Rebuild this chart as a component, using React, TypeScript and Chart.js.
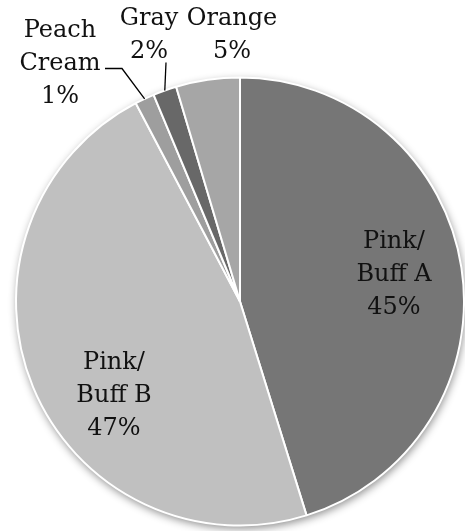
import React, { useEffect, useRef } from "react";
import { Chart, registerables } from "chart.js";

Chart.register(...registerables);

// ---- data ----
const categories = ["Pink/Buff A", "Pink/Buff B", "Peach Cream", "Gray", "Orange"];
const labelLines = [["Pink/", "Buff A"], ["Pink/", "Buff B"], ["Peach", "Cream"], ["Gray"], ["Orange"]];
const values = [45.2, 47.1, 1.4, 1.7, 4.6];
const percentLabels = ["45%", "47%", "1%", "2%", "5%"];

// ---- styles / layout ----
const sliceColors = ["#767676", "#c0c0c0", "#9e9e9e", "#686868", "#a6a6a6"];
const FONT = "24px 'DejaVu Serif', Georgia, serif";
const LINE_H = 33;
// label anchor: center x offset and first baseline offset from pie center (px)
const labelPlacement = [
  { dx: 154, dy: -54 },
  { dx: -126, dy: 67 },
  { dx: -180, dy: -265 },
  { dx: -91, dy: -277 },
  { dx: -8, dy: -277 },
];
// leader lines: start points relative to pie center (px); end at slice mid-angle on the rim
const leaders: Record<number, { x: number; y: number }[]> = {
  2: [
    { x: -135, y: -233 },
    { x: -118, y: -233 },
  ],
  3: [{ x: -74, y: -239 }],
};

const shadowPlugin = {
  id: "pieShadow",
  beforeDatasetsDraw(chart: any) {
    const meta = chart.getDatasetMeta(0);
    const arc = meta.data[0];
    if (!arc) return;
    const ctx = chart.ctx;
    ctx.save();
    ctx.shadowColor = "rgba(0,0,0,0.45)";
    ctx.shadowBlur = 8;
    ctx.shadowOffsetY = 3;
    ctx.shadowOffsetX = 1;
    ctx.beginPath();
    ctx.arc(arc.x, arc.y, arc.outerRadius, 0, Math.PI * 2);
    ctx.fillStyle = "#ffffff";
    ctx.fill();
    ctx.restore();
  },
};

const labelPlugin = {
  id: "pieLabels",
  afterDatasetsDraw(chart: any) {
    const meta = chart.getDatasetMeta(0);
    const ctx = chart.ctx;
    ctx.save();
    ctx.font = FONT;
    ctx.fillStyle = "#111111";
    ctx.textAlign = "center";
    ctx.textBaseline = "alphabetic";
    meta.data.forEach((arc: any, i: number) => {
      const cx = arc.x;
      const cy = arc.y;
      const p = labelPlacement[i];
      const lines = [...labelLines[i], percentLabels[i]];
      lines.forEach((t, k) => {
        ctx.fillText(t, cx + p.dx, cy + p.dy + k * LINE_H);
      });
      const pts = leaders[i];
      if (pts) {
        const mid = (arc.startAngle + arc.endAngle) / 2;
        const ex = cx + Math.cos(mid) * arc.outerRadius;
        const ey = cy + Math.sin(mid) * arc.outerRadius;
        ctx.beginPath();
        ctx.strokeStyle = "#000000";
        ctx.lineWidth = 1.3;
        ctx.moveTo(cx + pts[0].x, cy + pts[0].y);
        for (let k = 1; k < pts.length; k++) ctx.lineTo(cx + pts[k].x, cy + pts[k].y);
        ctx.lineTo(ex, ey);
        ctx.stroke();
      }
    });
    ctx.restore();
  },
};

export default function App() {
  const ref = useRef<HTMLCanvasElement>(null);
  useEffect(() => {
    if (!ref.current) return;
    const chart = new Chart(ref.current, {
      type: "pie",
      data: {
        labels: categories,
        datasets: [
          {
            data: values,
            backgroundColor: sliceColors,
            borderColor: "#ffffff",
            borderWidth: 2,
          },
        ],
      },
      options: {
        responsive: false,
        animation: false,
        layout: { padding: { left: 15, right: 0, top: 76, bottom: 4 } },
        plugins: {
          legend: { display: false },
          tooltip: { enabled: false },
        },
      },
      plugins: [shadowPlugin, labelPlugin],
    });
    return () => chart.destroy();
  }, []);
  return (
    <div style={{ position: "absolute", left: 0, top: 0, width: 465, height: 531, background: "#fff" }}>
      <canvas ref={ref} width={465} height={531} style={{ display: "block" }} />
    </div>
  );
}
